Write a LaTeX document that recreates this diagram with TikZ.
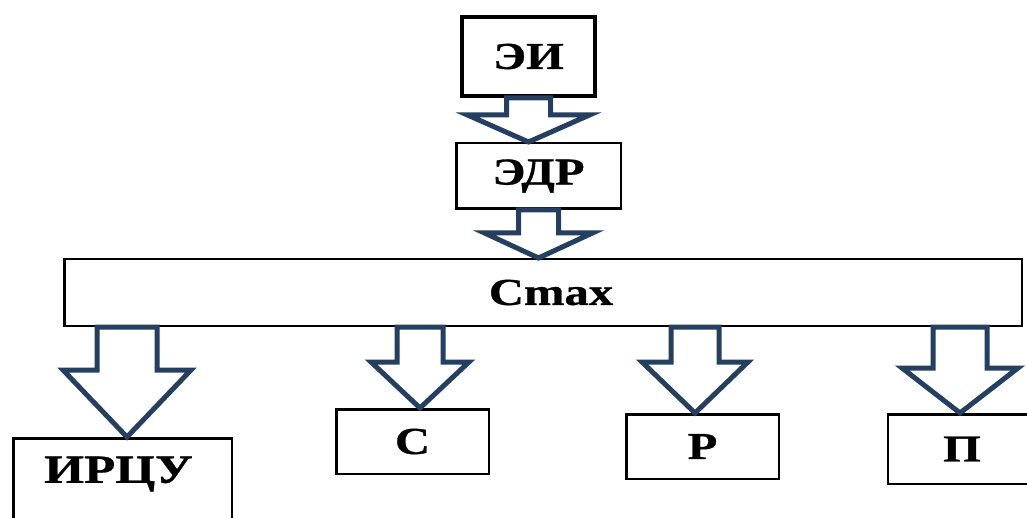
\documentclass[tikz,border=0pt]{standalone}
\usepackage{fontspec}
\newfontfamily\schemefont{Liberation Serif}[FakeStretch=1.28, BoldFeatures={FakeBold=0.8}]
\usetikzlibrary{calc}
\definecolor{arrowblue}{RGB}{36,63,96}
\tikzset{
    block/.style={
        draw,
        rectangle,
        fill=white,
        line width=2.5pt,
        inner sep=0pt,
        font=\schemefont\bfseries\fontsize{38}{42}\selectfont
    },
    fatarrow/.style={
        draw=arrowblue,
        fill=white,
        line width=5pt,
        line join=miter
    }
}
% block arrow: #1 start, #2 tip, #3 shaft half width, #4 head half width, #5 head length
\newcommand{\blockarrow}[5]{%
    \draw[fatarrow] let \p1=(#1), \p2=(#2) in
        (\x2-#3,\y1) -- (\x2-#3,\y2+#5) -- (\x2-#4,\y2+#5) -- (\x2,\y2)
        -- (\x2+#4,\y2+#5) -- (\x2+#3,\y2+#5) -- (\x2+#3,\y1) -- cycle;
}

\begin{document}
\begin{tikzpicture}[x=1pt, y=1pt]
    \useasboundingbox (0,0) rectangle (1027,-518);
    % Top chain
    \node[block, line width=4pt, minimum width=133pt, minimum height=79pt] (ei) at (528.5,-56.5) {ЭИ};
    \node[block, minimum width=164.5pt, minimum height=65.5pt] (edr) at (538.5,-176) {ЭДР};
    \node[block, minimum width=957.5pt, minimum height=66.5pt] (cmax) at (543,-292.5) {\hspace{16pt}Cmax};

    % Lower blocks
    \node[block, minimum width=218.5pt, minimum height=110pt] (ircu) at (122.5,-493.25) {};
    \node[font=\schemefont\bfseries\fontsize{40}{44}\selectfont] (ircutext) at ([xshift=-4pt, yshift=-37pt]ircu.north) {ИРЦУ};
    \node[block, minimum width=152.5pt, minimum height=64.5pt] (c) at (412.5,-441.5) {С};
    \node[block, minimum width=152.5pt, minimum height=64.5pt] (p) at (702.5,-446.5) {Р};
    \node[block, minimum width=148pt, minimum height=69.5pt] (pi) at (962,-449) {П};

    % Arrows
    \blockarrow{ei.south}{edr.north -| ei.south}{22pt}{61pt}{27pt}
    \blockarrow{edr.south}{cmax.north -| edr.south}{20pt}{54pt}{25pt}
    \blockarrow{cmax.south}{[xshift=4.5pt]ircu.north}{30pt}{64pt}{67pt}
    \blockarrow{cmax.south}{[xshift=7.5pt]c.north}{23pt}{49pt}{46pt}
    \blockarrow{cmax.south}{[xshift=-7.5pt]p.north}{24pt}{53pt}{51pt}
    \blockarrow{cmax.south}{[xshift=-2pt]pi.north}{27pt}{58pt}{45pt}
\end{tikzpicture}
\end{document}
